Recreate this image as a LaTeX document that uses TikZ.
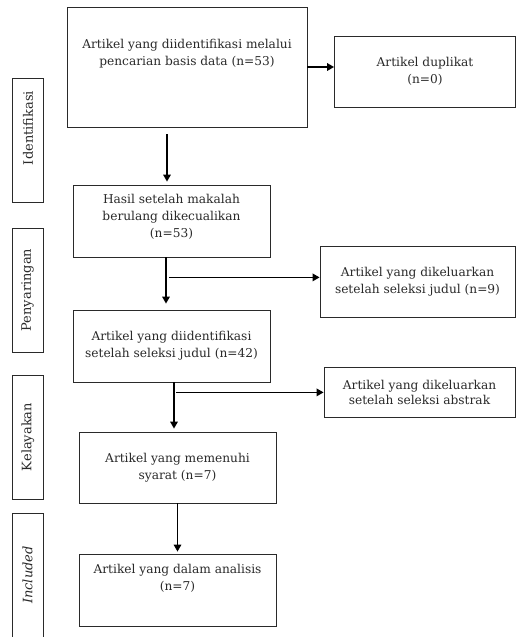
\documentclass[tikz,border=0pt]{standalone}
\usepackage{fontspec}
\setmainfont{DejaVu Serif}
\usepackage{tikz}
\usetikzlibrary{arrows.meta,positioning}
\definecolor{boxline}{HTML}{2A2A2A}
\tikzset{flowbox/.style={draw=boxline,line width=0.8pt,rectangle,align=center,inner sep=2pt,
        font=\fontsize{12.2}{17}\selectfont,text=boxline},
    sidebox/.style={draw=boxline,line width=0.8pt,rectangle,rotate=90,minimum width=124pt,minimum height=31pt,
        inner sep=0,font=\fontsize{13}{14}\selectfont,text=boxline},
    thickarrow/.style={line width=1.6pt,-{Triangle[length=7pt,width=7.5pt]}}
}

\begin{document}
\begin{tikzpicture}[x=1pt,y=-1pt]

\clip (0,0) rectangle (516,637);
\fill [white] (0,0) rectangle (516,637);

% main column
\node (ident) [flowbox,minimum width=240pt,minimum height=120pt] at (187,67)
    {Artikel yang diidentifikasi melalui\\pencarian basis data (n=53)\\[12pt]};
\node (dupl) [flowbox,minimum width=181pt,minimum height=71pt] at (425,71.5)
    {Artikel duplikat\\(n=0)};
\node (hasil) [flowbox,minimum width=197pt,minimum height=72pt] at (171.5,221)
    {Hasil setelah makalah\\berulang dikecualikan\\(n=53)\\[-6pt]};
\node (excljudul) [flowbox,minimum width=195pt,minimum height=71pt] at (417.5,281.5)
    {Artikel yang dikeluarkan\\setelah seleksi judul (n=9)};
\node (judul) [flowbox,minimum width=197pt,minimum height=72pt] at (171.5,346)
    {Artikel yang diidentifikasi\\setelah seleksi judul (n=42)};
\node (exclabstrak) [flowbox,minimum width=191pt,minimum height=50pt,font=\fontsize{12.2}{15}\selectfont] at (419.5,392)
    {Artikel yang dikeluarkan\\setelah seleksi abstrak};
\node (syarat) [flowbox,minimum width=197pt,minimum height=71pt] at (177.5,467.5)
    {Artikel yang memenuhi\\syarat (n=7)};
\node (analisis) [flowbox,minimum width=197pt,minimum height=72pt] at (177.5,590)
    {Artikel yang dalam analisis\\(n=7)\\[8pt]};

% phase labels
\node (phaseA) [sidebox] at (28,140) {\hspace*{24pt}Identifikasi};
\node (phaseB) [sidebox] at (27.5,290) {Penyaringan};
\node (phaseC) [sidebox] at (28,437) {Kelayakan};
\node (phaseD) [sidebox] at (27.5,575) {\itshape Included};

% connectors
\draw [thickarrow] (ident.east) -- (ident.east -| dupl.west);
\draw [thickarrow] ([xshift=-20pt,yshift=-7pt]ident.south) -- ([xshift=-4.5pt,yshift=3pt]hasil.north);

\draw [thickarrow] ([xshift=-5.5pt]hasil.south) -- ([xshift=-5.5pt,yshift=6pt]judul.north);
\coordinate (splitjudul) at ([xshift=-2.5pt,yshift=-20pt]hasil.south);
\draw [thickarrow] (splitjudul) -- (splitjudul -| excljudul.west);

\draw [thickarrow] ([xshift=2.5pt]judul.south) -- ([xshift=-3.5pt,yshift=3pt]syarat.north);
\coordinate (splitabstrak) at ([xshift=4.5pt,yshift=-10pt]judul.south);
\draw [thickarrow] (splitabstrak) -- (splitabstrak -| exclabstrak.west);

\draw [thickarrow] (syarat.south) -- ([yshift=2pt]analisis.north);

\end{tikzpicture}
\end{document}
